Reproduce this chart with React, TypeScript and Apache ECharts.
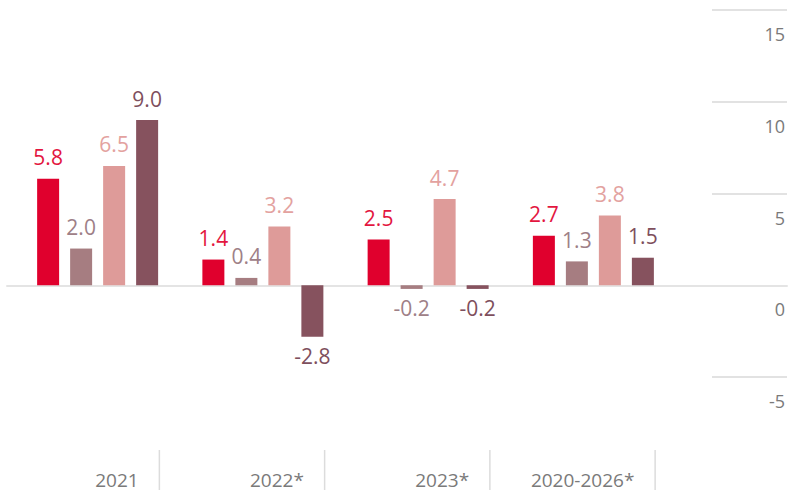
import React, { useEffect, useRef } from "react";
import * as echarts from "echarts";

const categories = ["2021", "2022*", "2023*", "2020-2026*"];
const seriesRed = [5.8, 1.4, 2.5, 2.7];
const seriesMauve = [2.0, 0.4, -0.2, 1.3];
const seriesPink = [6.5, 3.2, 4.7, 3.8];
const seriesDark = [9.0, -2.8, -0.2, 1.5];
const yMin = -5;
const yMax = 15;
const yStep = 5;

const barColors = ["#E0002D", "#A67D81", "#DE9B99", "#86525E"];
const labelColors = ["#E3163F", "#9E8087", "#E3A29F", "#7E4F5D"];
const FONT = "'Open Sans', 'DejaVu Sans', sans-serif";

export default function App() {
  const ref = useRef<HTMLDivElement>(null);
  useEffect(() => {
    if (!ref.current) return;
    const chart = echarts.init(ref.current, undefined, { renderer: "svg" });
    const all = [seriesRed, seriesMauve, seriesPink, seriesDark];
    const option: any = {
      animation: false,
      backgroundColor: "#ffffff",
      grid: [
        { left: 15, top: 10, width: 661, height: 367, containLabel: false, outerBoundsMode: "none" },
        { left: 712, top: 10, width: 75, height: 367, containLabel: false, outerBoundsMode: "none" },
        { left: 7, top: 10, width: 780, height: 367, containLabel: false, outerBoundsMode: "none" },
      ],
      xAxis: [
        {
          gridIndex: 0,
          type: "category",
          data: categories,
          axisLine: { show: false },
          axisTick: { show: false },
          splitLine: { show: false },
          axisLabel: {
            margin: 73,
            align: "left",
            verticalAlign: "top",
            formatter: (v: string) => `{t|${v}}{g|}{s|}`,
            rich: {
              t: {
                width: 41,
                align: "right",
                fontSize: 19,
                fontFamily: FONT,
                color: "#7a7a7a",
                padding: [20, 0, 0, 0],
              },
              g: { width: 20, height: 40, align: "right" },
              s: { width: 1.5, height: 40, align: "right", backgroundColor: "#dcdcdc" },
            },
          },
        },
        { gridIndex: 1, type: "value", show: false, min: 0, max: 1 },
        {
          gridIndex: 2,
          type: "value",
          min: 0,
          max: 1,
          axisLine: { show: true, onZero: true, lineStyle: { color: "#e4e4e4", width: 2 } },
          axisTick: { show: false },
          axisLabel: { show: false },
          splitLine: { show: false },
        },
      ],
      yAxis: [
        { gridIndex: 0, type: "value", min: yMin, max: yMax, interval: yStep, show: false },
        {
          gridIndex: 1,
          type: "value",
          position: "right",
          min: yMin,
          max: yMax,
          interval: yStep,
          axisLine: { show: false },
          axisTick: { show: false },
          splitLine: { show: true, lineStyle: { color: "#e2e2e2", width: 2 } },
          axisLabel: {
            inside: true,
            margin: 2,
            verticalAlign: "top",
            padding: [15, 0, 0, 0],
            fontSize: 18,
            fontFamily: FONT,
            color: "#7a7a7a",
          },
        },
        { gridIndex: 2, type: "value", min: yMin, max: yMax, interval: yStep, show: false },
      ],
      series: all.map((vals, i) => ({
        type: "bar",
        xAxisIndex: 0,
        yAxisIndex: 0,
        barWidth: 22,
        barGap: "50%",
        itemStyle: { color: barColors[i] },
        label: {
          show: true,
          fontSize: 21,
          fontFamily: FONT,
          color: labelColors[i],
          formatter: (p: any) => Number(p.value).toFixed(1),
        },
        data: vals.map((v) => ({
          value: v,
          label: { position: v < 0 ? "bottom" : "top", distance: v < 0 ? 9 : 11 },
        })),
      })),
    };
    chart.setOption(option);
    return () => chart.dispose();
  }, []);
  return (
    <div
      ref={ref}
      style={{ position: "absolute", left: 0, top: 0, width: 789, height: 493 }}
    />
  );
}
